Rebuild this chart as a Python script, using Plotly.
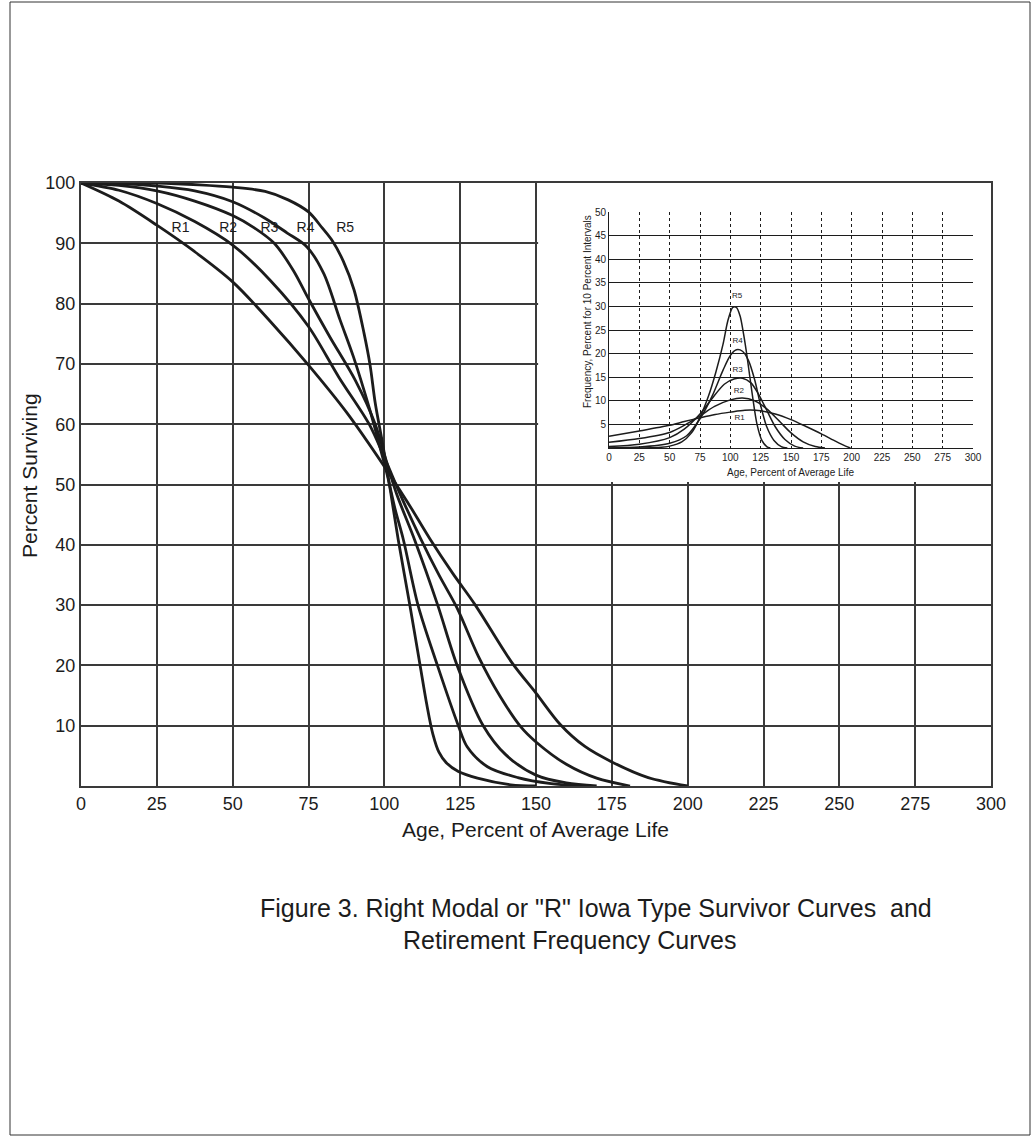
import plotly.graph_objects as go

# ---------------- data: survivor curves (main chart) ----------------
ages_ticks = [0, 25, 50, 75, 100, 125, 150, 175, 200, 225, 250, 275, 300]
surv_ticks = [10, 20, 30, 40, 50, 60, 70, 80, 90, 100]

R1_age = [0, 12.5, 25, 37.5, 50, 62.5, 75, 87.5, 100, 107.5, 115, 122.5, 130, 142, 150, 158, 166, 175, 187, 200]
R1_surv = [100, 97, 93, 88.6, 83.6, 77, 69.8, 62, 53, 47.2, 41, 35.3, 30, 20.5, 15.4, 10.2, 6.6, 4, 1.4, 0]

R2_age = [0, 12.5, 25, 37.5, 50, 62.5, 75, 85, 95, 100, 106, 112, 118, 124, 131, 138, 145, 150, 160, 170, 181]
R2_surv = [100, 98.8, 96.6, 93.6, 89.7, 83.8, 76.2, 67.8, 60, 54.5, 47.5, 41, 35, 29.5, 21.5, 15, 9.8, 7.3, 3.6, 1.3, 0]

R3_age = [0, 12.5, 25, 37.5, 50, 57, 63.7, 70, 75, 82, 90.4, 97, 100, 104, 110, 117.6, 124, 132.6, 140, 150, 160, 170]
R3_surv = [100, 99.6, 98.7, 97, 94.6, 92.6, 90, 85.5, 80.8, 74.5, 67.3, 60, 55, 48.5, 40.8, 30, 20, 10, 5.2, 1.8, 0.5, 0]

R4_age = [0, 12.5, 25, 37.5, 50, 60.5, 68, 74.5, 80, 85.4, 89.8, 95.2, 98.5, 101, 103.5, 106.3, 111.1, 117.5, 124.4, 127.3, 134, 144, 155, 165]
R4_surv = [100, 99.9, 99.5, 98.7, 96.9, 94.2, 91.7, 89.4, 85, 77.3, 71.2, 62.4, 56.3, 51.5, 46, 40.8, 30, 20, 10, 6.5, 3.2, 1.4, 0.4, 0]

R5_age = [0, 25, 39, 50, 60.7, 68.3, 75, 79.6, 83, 86.5, 90, 93.3, 95.3, 97, 99.6, 102, 104.6, 108.4, 111.8, 114, 116, 118, 120.5, 124.4, 130.7, 141.7, 150]
R5_surv = [100, 100, 99.7, 99.3, 98.6, 97.2, 95.2, 92.5, 90.3, 87, 82.3, 75.1, 69.8, 63.5, 56.3, 49, 40.8, 30, 20, 13.5, 8.6, 5.6, 3.8, 2.4, 1.3, 0.2, 0]

curve_names = ["R1", "R2", "R3", "R4", "R5"]
label_age = [32.8, 48.5, 62.1, 74.0, 87.1]
label_surv = [92.5, 92.5, 92.5, 92.5, 92.5]

# ---------------- data: retirement frequency curves (inset) ----------------
freq_ticks = [5, 10, 15, 20, 25, 30, 35, 40, 45, 50]

F1_age = [0, 25, 50, 62, 75, 87.5, 100, 112, 125, 137, 150, 162, 175, 187, 195, 199]
F1_freq = [2.5, 3.6, 4.8, 5.6, 6.4, 7.1, 7.6, 8, 7.9, 7.2, 6, 4.6, 3, 1.4, 0.4, 0]

F2_age = [0, 25, 50, 62, 75, 87, 100, 110, 120, 130, 140, 150, 160, 170, 178]
F2_freq = [1.2, 2, 3.3, 4.8, 6.8, 8.8, 10.2, 10.6, 10, 8.3, 5.8, 3.2, 1.3, 0.3, 0]

F3_age = [0, 25, 50, 62, 75, 85, 95, 103, 110, 117, 123, 130, 137, 145, 153, 160]
F3_freq = [0.3, 0.8, 2.2, 4, 7.2, 10.5, 13.5, 14.6, 14.8, 13.8, 11.5, 8, 4.5, 1.8, 0.4, 0]

F4_age = [0, 25, 50, 64, 75, 85, 94, 100, 105, 110, 115, 120, 125, 130, 136, 142, 147]
F4_freq = [0, 0.2, 1, 2.6, 6.2, 11, 16.5, 19.6, 20.8, 20.5, 18.5, 14.5, 9, 4.5, 1.6, 0.3, 0]

F5_age = [0, 40, 50, 60, 68, 75, 82, 88, 94, 98, 102, 105, 108, 111, 114, 118, 122, 126, 130, 133]
F5_freq = [0, 0.1, 0.4, 1.3, 3.2, 6.5, 11, 16, 22, 27, 29.8, 29.8, 28, 24, 19, 11.5, 5, 1.6, 0.3, 0]

inset_label_age = [107.7, 107.0, 106.0, 106.0, 105.5]
inset_label_freq = [6.4, 12.1, 16.5, 22.6, 32.2]

caption_line1 = 'Figure 3. Right Modal or "R" Iowa Type Survivor Curves  and'
caption_line2 = 'Retirement Frequency Curves'

# ---------------- figure ----------------
INK = "#1c1c1c"
GRID = "#3a3a3a"
FONT = "Liberation Sans"

fig = go.Figure()

surv_series = [(R1_age, R1_surv), (R2_age, R2_surv), (R3_age, R3_surv), (R4_age, R4_surv), (R5_age, R5_surv)]
for name, (a, s) in zip(curve_names, surv_series):
    fig.add_trace(go.Scatter(x=a, y=s, mode="lines", name=name, xaxis="x", yaxis="y",
                             line=dict(color=INK, width=2.8, shape="spline", smoothing=0.9),
                             showlegend=False, hoverinfo="skip"))

fig.add_trace(go.Scatter(x=label_age, y=label_surv, mode="text", text=curve_names,
                         textfont=dict(family=FONT, size=14, color=INK),
                         xaxis="x", yaxis="y", showlegend=False, hoverinfo="skip"))

freq_series = [(F1_age, F1_freq), (F2_age, F2_freq), (F3_age, F3_freq), (F4_age, F4_freq), (F5_age, F5_freq)]
for name, (a, f) in zip(curve_names, freq_series):
    fig.add_trace(go.Scatter(x=a, y=f, mode="lines", name=name + " freq", xaxis="x2", yaxis="y2",
                             line=dict(color=INK, width=1.5, shape="spline", smoothing=0.8),
                             showlegend=False, hoverinfo="skip"))

fig.add_trace(go.Scatter(x=inset_label_age, y=inset_label_freq, mode="text", text=curve_names,
                         textfont=dict(family=FONT, size=8, color=INK),
                         xaxis="x2", yaxis="y2", showlegend=False, hoverinfo="skip"))

# geometry (page pixels -> paper); body margin is removed by post_script
W, H = 1034, 1141
L, R, T, B = 81, 991, 183, 786
pw, ph = R - L, B - T

def px(x):
    return (x - L) / pw

def py(y):
    return (B - y) / ph

fig.update_layout(
    width=W, height=H,
    margin=dict(l=L, r=W - R, t=T, b=H - B, pad=0),
    paper_bgcolor="white", plot_bgcolor="white",
    font=dict(family=FONT, color=INK),
    showlegend=False,
    xaxis=dict(range=[0, 300], tickvals=ages_ticks, ticktext=[str(v) for v in ages_ticks],
               showgrid=True, gridcolor=GRID, gridwidth=2, zeroline=False,
               showline=True, linecolor=GRID, linewidth=2, mirror=True,
               ticks="", tickfont=dict(size=18, family=FONT, color=INK), domain=[0, 1]),
    yaxis=dict(range=[0, 100], tickvals=surv_ticks, ticktext=[str(v) for v in surv_ticks],
               showgrid=True, gridcolor=GRID, gridwidth=2, zeroline=False,
               showline=True, linecolor=GRID, linewidth=2, mirror=True,
               ticks="", tickfont=dict(size=18, family=FONT, color=INK), domain=[0, 1]),
    xaxis2=dict(domain=[px(609), px(973)], anchor="y2", range=[0, 300], tickvals=ages_ticks,
                ticktext=[str(v) for v in ages_ticks],
                showgrid=True, gridcolor=INK, gridwidth=1, griddash="dot", zeroline=False,
                showline=True, linecolor=INK, linewidth=1, mirror=False,
                ticks="", tickfont=dict(size=10, family=FONT, color=INK)),
    yaxis2=dict(domain=[py(448), py(212)], anchor="x2", range=[0, 50], tickvals=freq_ticks,
                ticktext=[str(v) for v in freq_ticks],
                showgrid=True, gridcolor=INK, gridwidth=1, zeroline=False,
                showline=True, linecolor=INK, linewidth=1, mirror=False,
                ticks="", tickfont=dict(size=10, family=FONT, color=INK)),
)

# white panel behind the inset (covers main grid in the upper-right corner)
fig.add_shape(type="rect", xref="x", yref="y", x0=150.7, x1=300, y0=50.4, y1=100,
              fillcolor="white", line=dict(width=0), layer="between")

# page border
fig.add_shape(type="rect", xref="paper", yref="paper",
              x0=px(10), x1=px(1030), y0=py(1135), y1=py(2),
              line=dict(color="#333", width=1), fillcolor="rgba(0,0,0,0)", layer="above")

ann = [
    dict(text="Percent Surviving", x=px(29), y=py(476), textangle=-90, size=21),
    dict(text="Age, Percent of Average Life", x=px(535), y=py(829), size=21),
    dict(text="Frequency, Percent for 10 Percent Intervals", x=px(587), y=py(312), textangle=-90, size=10),
    dict(text="Age, Percent of Average Life", x=px(791), y=py(472), size=10),
    dict(text=caption_line1, x=px(596), y=py(908), size=25),
    dict(text=caption_line2, x=px(569), y=py(940), size=25),
]
for a in ann:
    fig.add_annotation(xref="paper", yref="paper", showarrow=False, xanchor="center", yanchor="middle",
                       x=a["x"], y=a["y"], text=a["text"], textangle=a.get("textangle", 0),
                       font=dict(family=FONT, color=INK, size=a["size"]))

fig.write_html("out.html", config={"displayModeBar": False, "staticPlot": True},
               post_script="document.body.style.margin='0';document.body.style.overflow='hidden';")
